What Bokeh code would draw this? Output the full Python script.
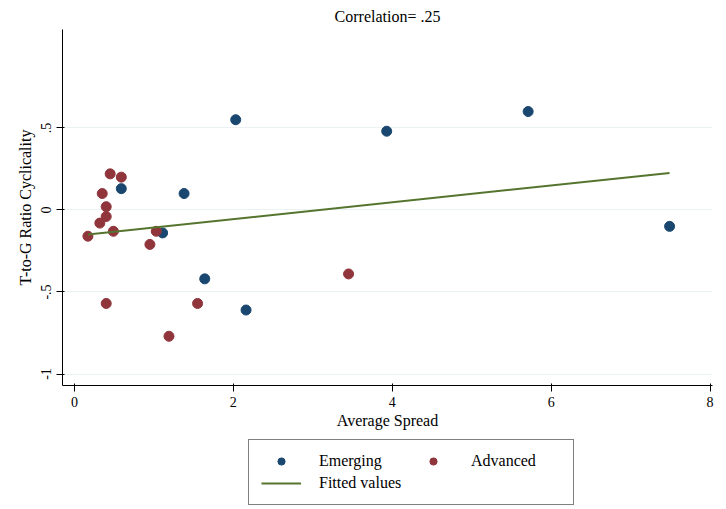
from bokeh.plotting import figure
from bokeh.layouts import column
from bokeh.models import Legend, LegendItem, FixedTicker
from bokeh.embed import file_html
from bokeh.resources import INLINE

em_x = [0.59, 1.38, 1.11, 1.64, 2.03, 2.16, 3.93, 5.71, 7.49]
em_y = [0.13, 0.10, -0.14, -0.42, 0.55, -0.61, 0.48, 0.60, -0.10]
ad_x = [0.17, 0.32, 0.35, 0.40, 0.40, 0.40, 0.45, 0.49, 0.59, 0.95, 1.03, 1.19, 1.55, 3.45]
ad_y = [-0.16, -0.08, 0.10, 0.02, -0.04, -0.57, 0.22, -0.13, 0.20, -0.21, -0.13, -0.77, -0.57, -0.39]
fit_x = [0.17, 7.49]
fit_y = [-0.150, 0.226]

F = "Liberation Serif"
p = figure(frame_width=650, frame_height=356, output_backend="svg", toolbar_location=None,
           x_range=(-0.15, 8.03), y_range=(-1.07, 1.10),
           title="Correlation= .25", min_border_left=62, min_border_right=2, min_border_top=0,
           min_border_bottom=0)
p.title.align = "center"; p.title.text_font = F; p.title.text_font_size = "16px"
p.title.text_font_style = "normal"; p.title.text_color = "black"
p.title.offset = 0
p.outline_line_color = None
p.xgrid.grid_line_color = None
p.ygrid.grid_line_color = "#eaf2f3"
p.xaxis.ticker = FixedTicker(ticks=[0, 2, 4, 6, 8])
p.yaxis.ticker = FixedTicker(ticks=[-1, -0.5, 0, 0.5])
p.yaxis.major_label_overrides = {-1: "-1", -0.5: "-.5", 0: "0", 0.5: ".5"}
p.yaxis.major_label_orientation = "vertical"
p.xaxis.axis_label = "Average Spread"
p.yaxis.axis_label = "T-to-G Ratio Cyclicality"
for ax in (p.xaxis[0], p.yaxis[0]):
    ax.axis_label_text_font = F; ax.axis_label_text_font_style = "normal"
    ax.axis_label_text_font_size = "16px"
    ax.major_label_text_font = F; ax.major_label_text_font_size = "14px"
    ax.major_label_text_color = "black"; ax.axis_label_text_color = "black"
    ax.minor_tick_line_color = None
    ax.axis_line_color = "black"; ax.major_tick_line_color = "black"
p.xaxis.axis_label_standoff = 2

p.scatter(em_x, em_y, size=10, color="#1a476f")
p.scatter(ad_x, ad_y, size=10, color="#90353b")
p.line(fit_x, fit_y, line_width=2, color="#55752f")

# legend-only panel: key glyphs placed off-range so only legend swatches show
q = figure(width=714, height=70, output_backend="svg", toolbar_location=None,
           x_range=(0, 1), y_range=(0, 1), min_border=0)
q.axis.visible = False
q.grid.visible = False
q.outline_line_color = None
k1 = q.scatter([-9], [-9], size=10, color="#1a476f")
k2 = q.scatter([-9], [-9], size=10, color="#90353b")
k3 = q.line([-9, -8], [-9, -9], line_width=2, color="#55752f")
leg = Legend(items=[LegendItem(label="Emerging", renderers=[k1]),
                    LegendItem(label="Fitted values", renderers=[k3]),
                    LegendItem(label="Advanced", renderers=[k2])],
             ncols=2, location=(186, 0), label_text_font=F, label_text_font_size="16px",
             label_text_color="black", label_standoff=18,
             border_line_color="black", margin=0, glyph_width=40, spacing=4, label_width=90,
             padding=12, label_height=18, glyph_height=18)
q.add_layout(leg, "center")

open("out.html", "w").write(file_html(column(p, q, spacing=4), INLINE))
